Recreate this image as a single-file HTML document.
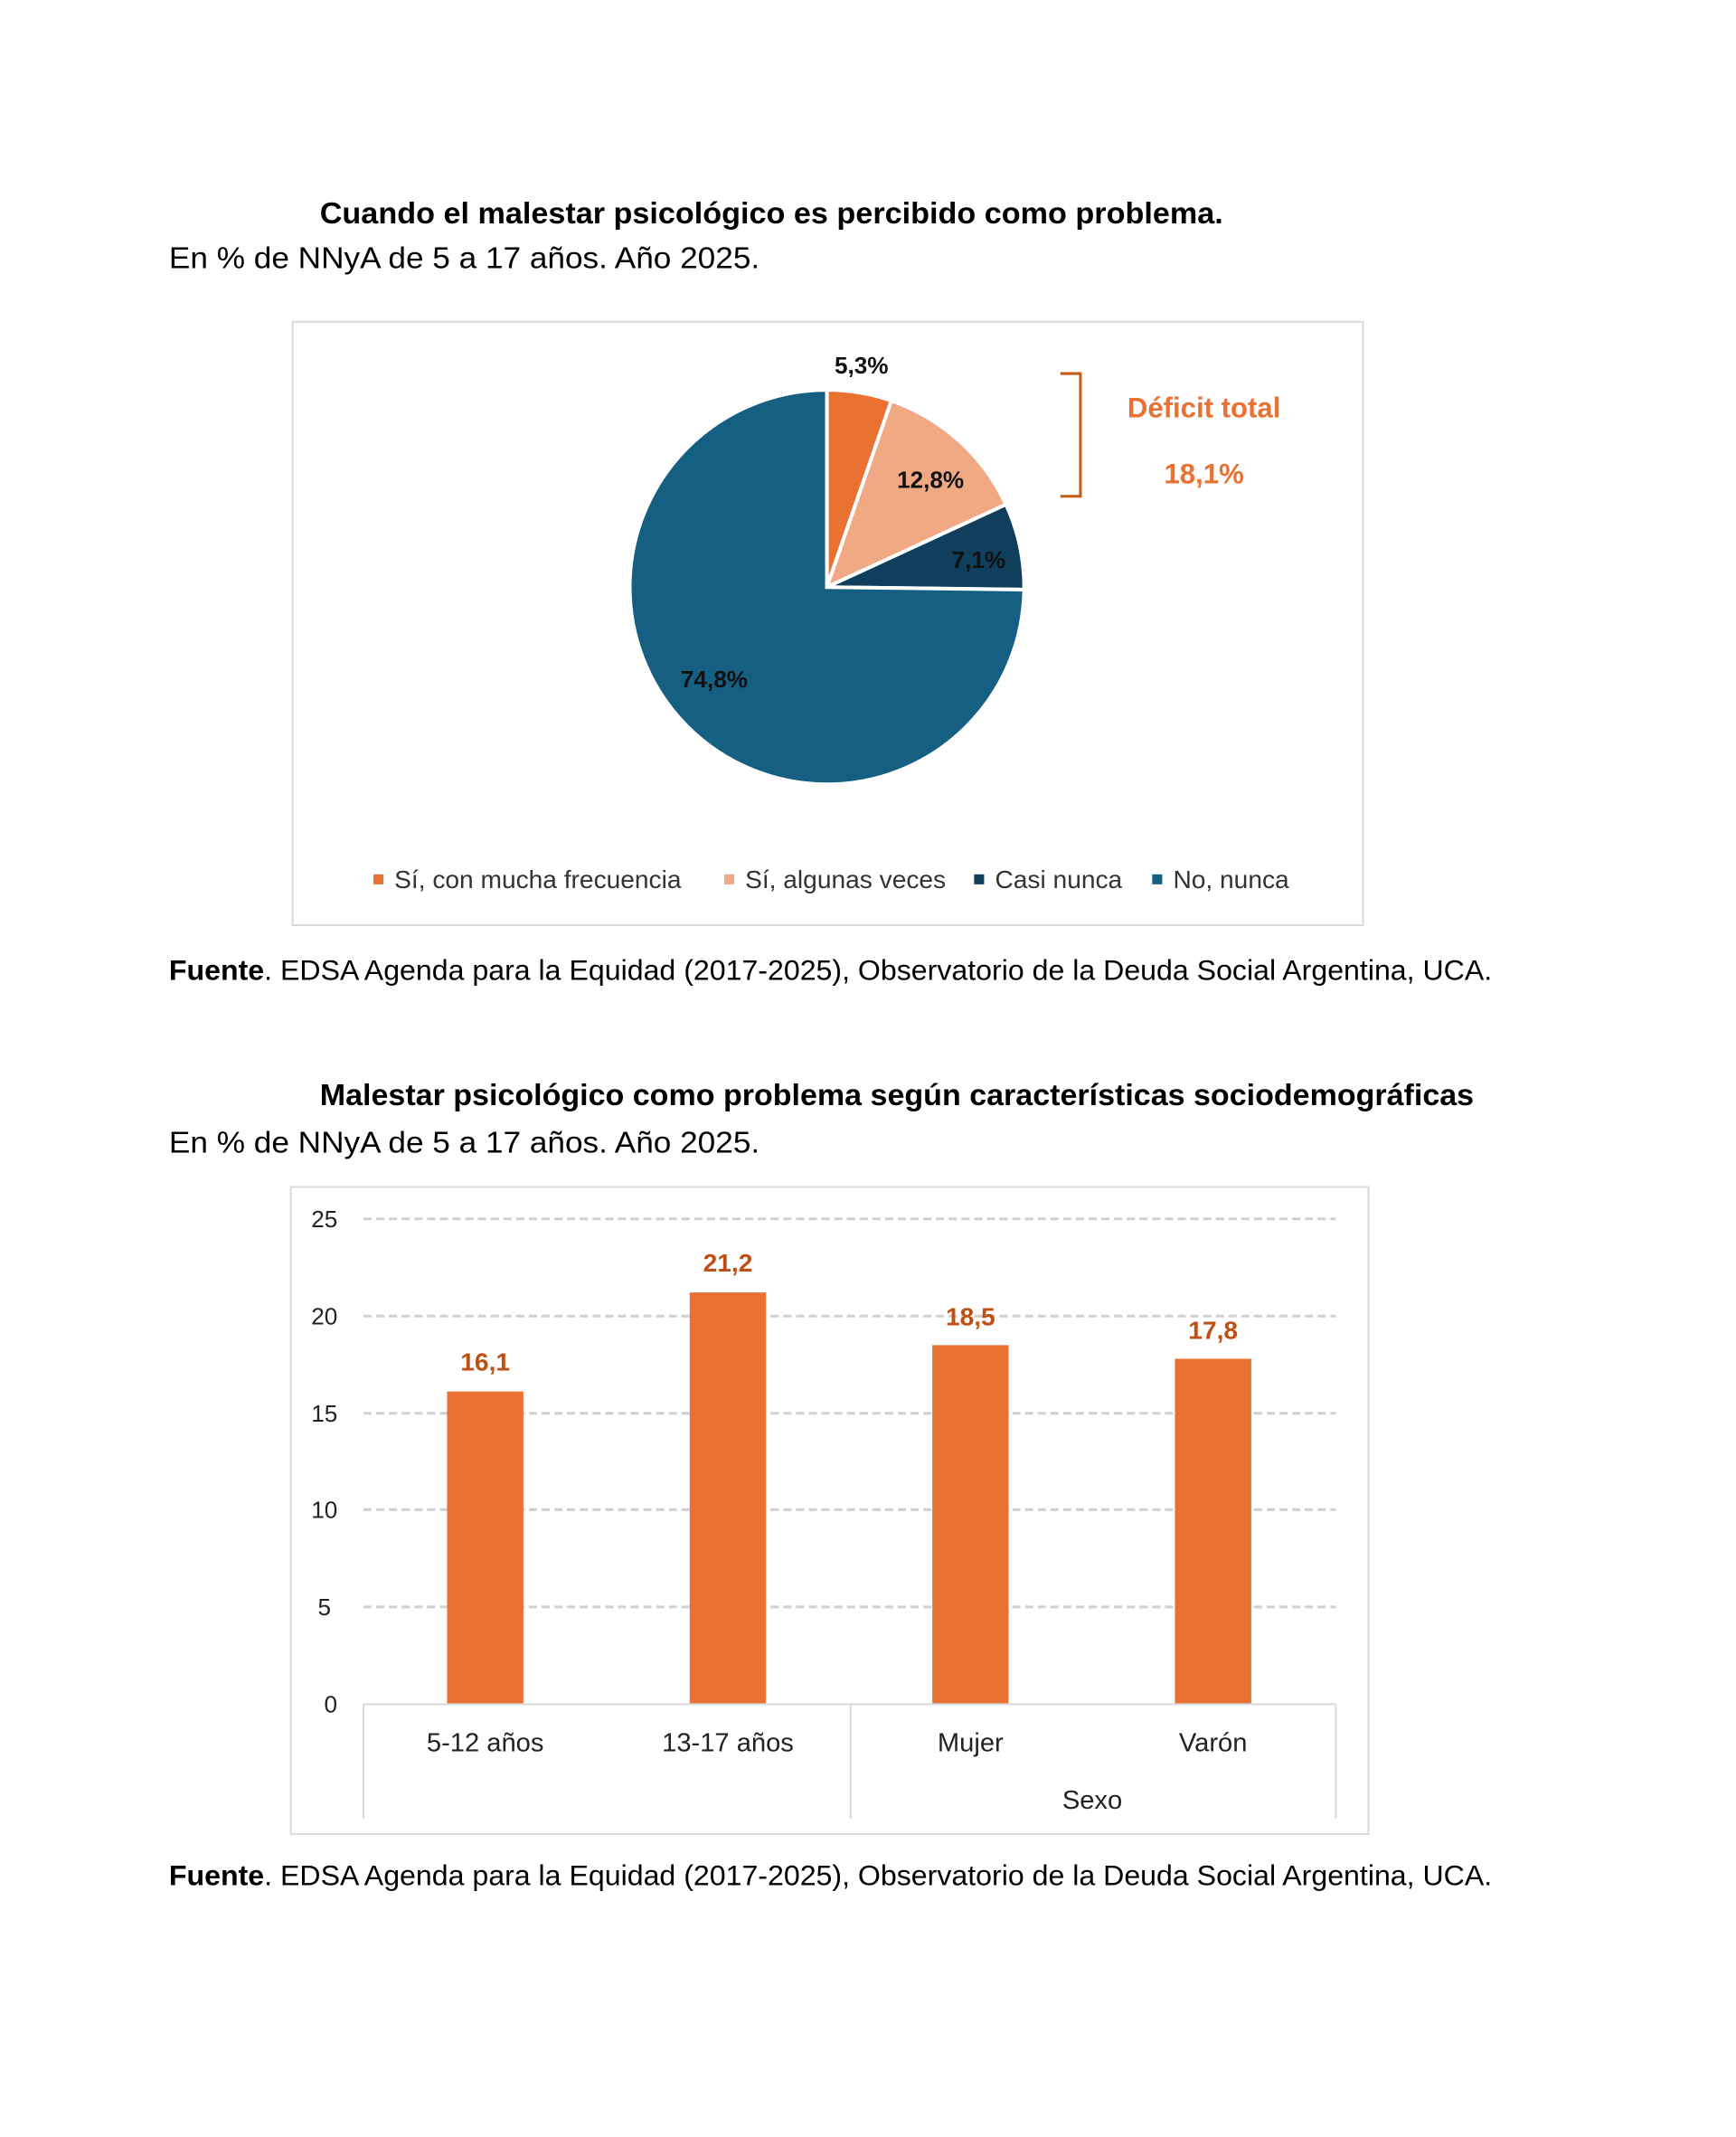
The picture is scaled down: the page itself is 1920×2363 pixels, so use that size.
<!DOCTYPE html>
<html><head><meta charset="utf-8"><style>body{margin:0;background:#fff}svg{display:block}</style></head>
<body>
<svg width="1920" height="2363" viewBox="0 0 1920 2363" xmlns="http://www.w3.org/2000/svg" font-family="Liberation Sans, sans-serif">
<rect width="1920" height="2363" fill="#fff"/>
<g transform="scale(1.005)">
<text x="352" y="246" font-size="33" font-weight="bold" textLength="994" lengthAdjust="spacingAndGlyphs">Cuando el malestar psicológico es percibido como problema.</text>
<text x="186" y="295" font-size="33" textLength="650" lengthAdjust="spacingAndGlyphs">En % de NNyA de 5 a 17 años. Año 2025.</text>
<rect x="322" y="354" width="1178" height="664" fill="#fff" stroke="#d9d9d9" stroke-width="2"/>
<g transform="translate(910,646)" stroke="#fff" stroke-width="4">
<path d="M0,0 L0,-217 A217,217 0 0,1 70.9,-205.1 Z" fill="#E97132"/>
<path d="M0,0 L70.9,-205.1 A217,217 0 0,1 197.0,-91.0 Z" fill="#F1A983"/>
<path d="M0,0 L197.0,-91.0 A217,217 0 0,1 217,2.7 Z" fill="#0F3F5C"/>
<path d="M0,0 L217,2.7 A217,217 0 1,1 0,-217 Z" fill="#156082"/>
</g>
<g font-size="26" font-weight="bold" text-anchor="middle" fill="#111">
<text x="948" y="411">5,3%</text><text x="1024" y="537">12,8%</text><text x="1077" y="625">7,1%</text><text x="786" y="756">74,8%</text>
</g>
<path d="M1167,411 H1189 V546 H1167" fill="none" stroke="#C55A11" stroke-width="3"/>
<text x="1325" y="459" font-size="31" font-weight="bold" fill="#E97132" text-anchor="middle">Déficit total</text>
<text x="1325" y="532" font-size="31" font-weight="bold" fill="#E97132" text-anchor="middle">18,1%</text>
<g font-size="28" fill="#333">
<rect x="411" y="962" width="11" height="11" fill="#E97132"/><text x="434" y="977">Sí, con mucha frecuencia</text>
<rect x="797" y="962" width="11" height="11" fill="#F1A983"/><text x="820" y="977">Sí, algunas veces</text>
<rect x="1072" y="962" width="11" height="11" fill="#0F3F5C"/><text x="1095" y="977">Casi nunca</text>
<rect x="1268" y="962" width="11" height="11" fill="#156082"/><text x="1291" y="977">No, nunca</text>
</g>
<text x="186" y="1078" font-size="31" textLength="1456" lengthAdjust="spacingAndGlyphs"><tspan font-weight="bold">Fuente</tspan>. EDSA Agenda para la Equidad (2017-2025), Observatorio de la Deuda Social Argentina, UCA.</text>

<text x="352" y="1216" font-size="33" font-weight="bold" textLength="1270" lengthAdjust="spacingAndGlyphs">Malestar psicológico como problema según características sociodemográficas</text>
<text x="186" y="1268" font-size="33" textLength="650" lengthAdjust="spacingAndGlyphs">En % de NNyA de 5 a 17 años. Año 2025.</text>
<rect x="320" y="1306" width="1186" height="712" fill="#fff" stroke="#d9d9d9" stroke-width="2"/>
<g stroke="#d0d0d0" stroke-width="3" stroke-dasharray="9,5">
<line x1="400" y1="1341" x2="1470" y2="1341"/><line x1="400" y1="1448" x2="1470" y2="1448"/><line x1="400" y1="1555" x2="1470" y2="1555"/><line x1="400" y1="1661" x2="1470" y2="1661"/><line x1="400" y1="1768" x2="1470" y2="1768"/>
</g>
<g font-size="26" fill="#222" text-anchor="middle">
<text x="357" y="1350">25</text><text x="357" y="1457">20</text><text x="357" y="1564">15</text><text x="357" y="1670">10</text><text x="357" y="1777">5</text><text x="364" y="1884">0</text>
</g>
<g fill="#E97132">
<rect x="492" y="1531" width="84" height="344"/><rect x="759" y="1422" width="84" height="453"/><rect x="1026" y="1480" width="84" height="395"/><rect x="1293" y="1495" width="84" height="380"/>
</g>
<g font-size="28" font-weight="bold" fill="#C04F15" text-anchor="middle">
<text x="534" y="1508">16,1</text><text x="801" y="1399">21,2</text><text x="1068" y="1458">18,5</text><text x="1335" y="1473">17,8</text>
</g>
<g stroke="#d9d9d9" stroke-width="2">
<line x1="400" y1="1875" x2="1470" y2="1875"/><line x1="400" y1="1875" x2="400" y2="2001"/><line x1="936" y1="1875" x2="936" y2="2001"/><line x1="1470" y1="1875" x2="1470" y2="2001"/>
</g>
<g font-size="29" fill="#222" text-anchor="middle">
<text x="534" y="1927">5-12 años</text><text x="801" y="1927">13-17 años</text><text x="1068" y="1927">Mujer</text><text x="1335" y="1927">Varón</text><text x="1202" y="1990">Sexo</text>
</g>
<text x="186" y="2074" font-size="31" textLength="1456" lengthAdjust="spacingAndGlyphs"><tspan font-weight="bold">Fuente</tspan>. EDSA Agenda para la Equidad (2017-2025), Observatorio de la Deuda Social Argentina, UCA.</text>
</g>
</svg>
</body></html>
